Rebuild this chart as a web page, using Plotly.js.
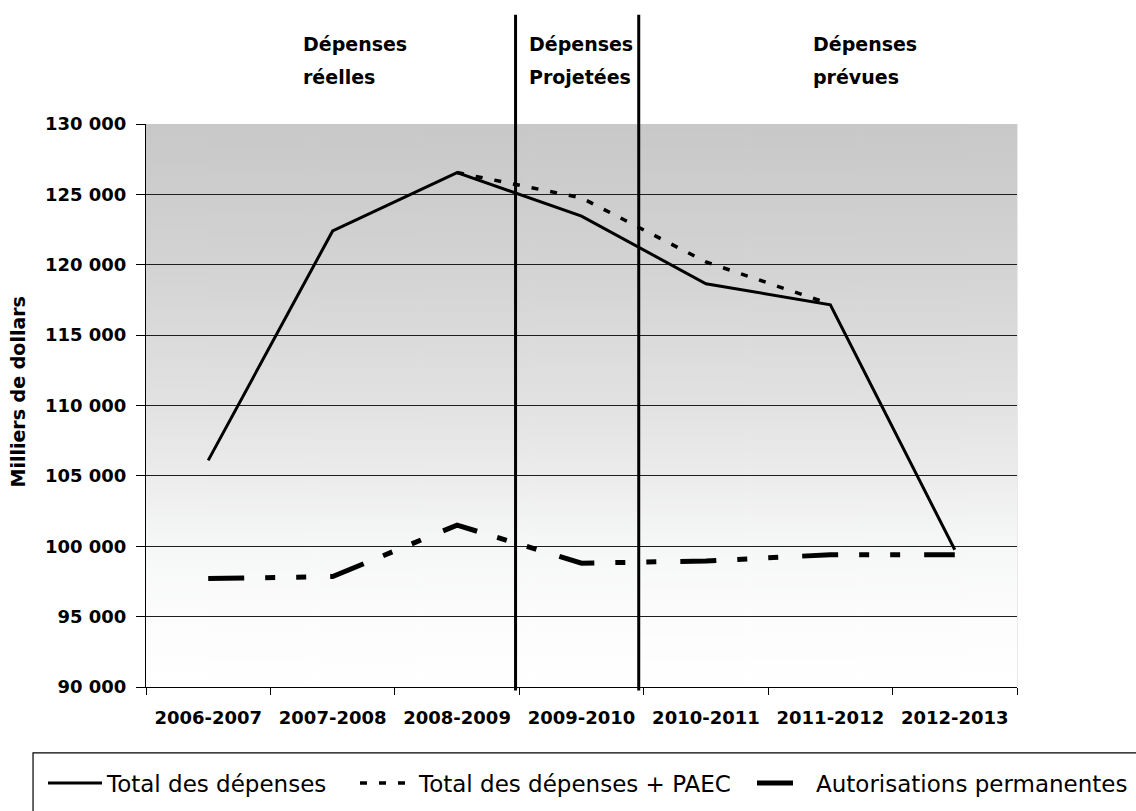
<!DOCTYPE html>
<html>
<head>
<meta charset="utf-8">
<script src="https://cdn.plot.ly/plotly-3.0.1.min.js"></script>
<style>
  html, body { margin: 0; padding: 0; background: #ffffff; }
  #chart { width: 1136px; height: 811px; }
</style>
</head>
<body>
<div id="chart"></div>
<script>
// ---- Data ----
const categories = ['2006-2007', '2007-2008', '2008-2009', '2009-2010', '2010-2011', '2011-2012', '2012-2013'];
const totalDepenses = [106100, 122400, 126550, 123450, 118650, 117150, 99750];
const totalDepensesPAEC = [null, null, 126550, 124750, 120200, 117200, null];
const autorisationsPermanentes = [97700, 97850, 101500, 98800, 98950, 99400, 99400];

const seriesNames = ['Total des dépenses', 'Total des dépenses + PAEC', 'Autorisations permanentes'];
const yAxisTitle = 'Milliers de dollars';
const periodLabels = [['Dépenses', 'réelles'], ['Dépenses', 'Projetées'], ['Dépenses', 'prévues']];

// ---- Background gradient generated locally ----
function gradientImage() {
  const c = document.createElement('canvas');
  c.width = 8; c.height = 563;
  const ctx = c.getContext('2d');
  const g = ctx.createLinearGradient(0, 0, 0, c.height);
  g.addColorStop(0.00, '#c8c8c8');
  g.addColorStop(0.25, '#d3d3d3');
  g.addColorStop(0.50, '#e2e2e2');
  g.addColorStop(0.625, '#ececec');
  g.addColorStop(0.75, '#f6f7f7');
  g.addColorStop(0.88, '#fcfcfc');
  g.addColorStop(1.00, '#ffffff');
  ctx.fillStyle = g;
  ctx.fillRect(0, 0, c.width, c.height);
  return c.toDataURL('image/png');
}

const FONT = 'DejaVu Sans, Arial, sans-serif';

const traces = [
  {
    x: categories, y: totalDepenses, name: seriesNames[0],
    type: 'scatter', mode: 'lines', legend: 'legend',
    line: { color: '#000000', width: 3 },
    hoverinfo: 'skip'
  },
  {
    x: categories, y: totalDepensesPAEC, name: seriesNames[1],
    type: 'scatter', mode: 'lines', connectgaps: false, legend: 'legend2',
    line: { color: '#000000', width: 3.5, dash: '7px,12px' },
    hoverinfo: 'skip'
  },
  {
    x: categories, y: autorisationsPermanentes, name: seriesNames[2],
    type: 'scatter', mode: 'lines', legend: 'legend3',
    line: { color: '#000000', width: 5, dash: '36px,21px,10px,21px,10px,24px' },
    hoverinfo: 'skip'
  }
];

// period separator positions (in category units, converted to paper)
const nCat = categories.length;
const sepCat = [2.47, 3.46];
const sepPaper = sepCat.map(c => (c + 0.5) / nCat);

const annX = [0.178, 0.4374, 0.7635];
const annY = [1.142, 1.084];
const annotations = [];
periodLabels.forEach((lines, i) => {
  lines.forEach((t, j) => {
    annotations.push({
      text: t, xref: 'paper', yref: 'paper', x: annX[i], y: annY[j],
      xanchor: 'left', yanchor: 'middle', showarrow: false,
      font: { family: FONT, size: 19, color: '#000000', weight: 'bold' }
    });
  });
});
// y axis title (rotated)
annotations.push({
  text: yAxisTitle, xref: 'paper', yref: 'paper',
  x: -0.1475, y: 0.524, xanchor: 'center', yanchor: 'middle',
  textangle: -90, showarrow: false,
  font: { family: FONT, size: 19, color: '#000000', weight: 'bold' }
});

const shapes = [];
sepPaper.forEach(px => {
  shapes.push({
    type: 'line', xref: 'paper', yref: 'paper',
    x0: px, x1: px, y0: -0.006, y1: 1.194,
    line: { color: '#000000', width: 3 }
  });
});
// faint right edge of plot area
shapes.push({
  type: 'line', xref: 'paper', yref: 'paper', x0: 1, x1: 1, y0: 0, y1: 1,
  line: { color: '#d4d4d4', width: 1 }, layer: 'below'
});
// legend frame (extends past the page edge as in the reference)
shapes.push({
  type: 'rect', xref: 'paper', yref: 'paper',
  x0: -0.1297, x1: 1.3, y0: -0.117, y1: -0.4,
  line: { color: '#000000', width: 1.2 }, fillcolor: 'rgba(0,0,0,0)'
});

function legendAt(leftPx) {
  return {
    orientation: 'h',
    xref: 'container', yref: 'container',
    x: leftPx / 1136, xanchor: 'left',
    y: 1 - 783 / 811, yanchor: 'middle',
    font: { family: FONT, size: 23, color: '#000000' },
    bgcolor: 'rgba(0,0,0,0)',
    borderwidth: 0,
    itemwidth: 54
  };
}

const layout = {
  width: 1136, height: 811,
  margin: { l: 146, r: 119, t: 124, b: 124, pad: 0, autoexpand: false },
  paper_bgcolor: '#ffffff',
  plot_bgcolor: 'rgba(0,0,0,0)',
  separators: ', ',
  showlegend: true,
  font: { family: FONT, color: '#000000' },
  xaxis: {
    type: 'category',
    range: [-0.5, nCat - 0.5],
    tickson: 'boundaries',
    ticks: 'outside', ticklen: 7, tickcolor: '#000000', tickwidth: 1,
    showline: true, linecolor: '#000000', linewidth: 1,
    showgrid: false, zeroline: false,
    ticklabelstandoff: 14,
    tickfont: { family: FONT, size: 18, color: '#000000', weight: 'bold' },
    automargin: false,
    fixedrange: true
  },
  yaxis: {
    range: [90000, 130000],
    dtick: 5000, tick0: 90000,
    tickformat: ',d',
    ticks: 'outside', ticklen: 9, tickcolor: '#000000', tickwidth: 1,
    showline: true, linecolor: '#000000', linewidth: 1,
    showgrid: true, gridcolor: '#1e1e1e', gridwidth: 1,
    zeroline: false,
    ticklabelstandoff: 6,
    tickfont: { family: FONT, size: 18, color: '#000000', weight: 'bold' },
    automargin: false,
    fixedrange: true
  },
  legend: legendAt(43),
  legend2: legendAt(355),
  legend3: legendAt(752),
  images: [{
    source: gradientImage(),
    xref: 'x', yref: 'y',
    x: -0.5, y: 130000, sizex: nCat, sizey: 40000,
    sizing: 'stretch', xanchor: 'left', yanchor: 'top',
    layer: 'below'
  }],
  shapes: shapes,
  annotations: annotations
};

Plotly.newPlot('chart', traces, layout, { displayModeBar: false, staticPlot: true });
</script>
</body>
</html>
